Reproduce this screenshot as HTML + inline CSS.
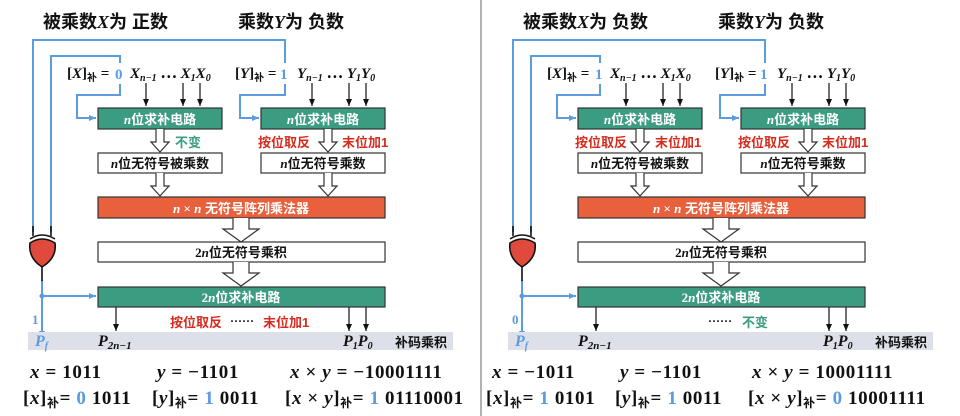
<!DOCTYPE html>
<html><head><meta charset="utf-8"><style>
body{margin:0;background:#fff}
svg{display:block}
.cn{font-family:"Liberation Sans","Noto Sans CJK SC",sans-serif;font-weight:bold}
.m{font-family:"Liberation Serif","Noto Sans CJK SC",serif;font-weight:bold}
.i{font-style:italic}
.f{letter-spacing:0.6px}
</style></head><body>
<svg width="960" height="416" viewBox="0 0 960 416" xmlns="http://www.w3.org/2000/svg">
<defs>
<marker id="ab" markerWidth="8" markerHeight="8" refX="7" refY="4" orient="auto" markerUnits="userSpaceOnUse"><path d="M0,1 L7,4 L0,7 Z" fill="#111"/></marker>
<marker id="bb" markerWidth="8" markerHeight="8" refX="7" refY="4" orient="auto" markerUnits="userSpaceOnUse"><path d="M0,1 L7,4 L0,7 Z" fill="#5b9be0"/></marker>
<g id="sa"><path d="M-4,0 V13 H-9 L0,23 L9,13 H4 V0" fill="#fff" stroke="#333" stroke-width="1.2"/></g>
<g id="la"><path d="M-8,0 V11 H-18 L0,24 L18,11 H8 V0" fill="#fff" stroke="#333" stroke-width="1.2"/></g>
<g id="common">
<g fill="none" stroke="#5b9be0" stroke-width="2">
<path d="M33,232 V40 H285 V63"/>
<path d="M51,232 V56 H120 V63"/>
<path d="M120,84 V95 H77 V118 H96" marker-end="url(#bb)"/>
<path d="M285,84 V95 H240 V118 H259" marker-end="url(#bb)"/>
<path d="M42,280 V338" marker-end="url(#bb)"/>
<path d="M42,296 H96" marker-end="url(#bb)"/>
</g>
<circle cx="42" cy="296" r="2.5" fill="#5b9be0"/>
<g stroke="#111" stroke-width="1.6">
<line x1="33" y1="226" x2="33" y2="236"/><line x1="51" y1="226" x2="51" y2="236"/>
<line x1="42" y1="262" x2="42" y2="281"/>
<path d="M30,239 Q42,231 55,239" fill="none"/>
<path d="M30,243 Q42,235 55,243 Q57,258 42,267 Q28,258 30,243 Z" fill="#e04a3c"/>
</g>
<g stroke="#111" stroke-width="1.2">
<line x1="146" y1="83" x2="146" y2="106" marker-end="url(#ab)"/>
<line x1="183" y1="83" x2="183" y2="106" marker-end="url(#ab)"/>
<line x1="200" y1="83" x2="200" y2="106" marker-end="url(#ab)"/>
<line x1="312" y1="83" x2="312" y2="106" marker-end="url(#ab)"/>
<line x1="349" y1="83" x2="349" y2="106" marker-end="url(#ab)"/>
<line x1="366" y1="83" x2="366" y2="106" marker-end="url(#ab)"/>
<line x1="116" y1="307" x2="116" y2="331" marker-end="url(#ab)"/>
<line x1="349" y1="307" x2="349" y2="331" marker-end="url(#ab)"/>
<line x1="366" y1="307" x2="366" y2="331" marker-end="url(#ab)"/>
</g>
<g stroke="#333" stroke-width="1.2">
<rect x="98" y="108" width="124" height="21" fill="#3c9c82"/>
<rect x="261" y="108" width="124" height="21" fill="#3c9c82"/>
<rect x="98" y="153" width="124" height="20" fill="#fff"/>
<rect x="261" y="153" width="124" height="20" fill="#fff"/>
<rect x="98" y="197" width="287" height="21" fill="#e8603c"/>
<rect x="98" y="242" width="287" height="20" fill="#fff"/>
<rect x="98" y="287" width="287" height="20" fill="#3c9c82"/>
</g>
<use href="#sa" x="160" y="129"/><use href="#sa" x="328" y="129"/>
<use href="#sa" x="160" y="173"/><use href="#sa" x="328" y="173"/>
<use href="#la" x="241" y="218"/><use href="#la" x="241" y="262"/>
<rect x="28" y="332" width="425" height="18" fill="#dde0e8"/>
<g class="cn" font-size="13" text-anchor="middle">
<text x="160" y="124" fill="#fff"><tspan class="m i">n</tspan>位求补电路</text>
<text x="323" y="124" fill="#fff"><tspan class="m i">n</tspan>位求补电路</text>
<text x="160" y="168" fill="#111"><tspan class="m i">n</tspan>位无符号被乘数</text>
<text x="323" y="168" fill="#111"><tspan class="m i">n</tspan>位无符号乘数</text>
<text x="241" y="213" fill="#fff"><tspan class="m i">n</tspan><tspan class="m"> × </tspan><tspan class="m i">n</tspan> 无符号阵列乘法器</text>
<text x="241" y="257" fill="#111"><tspan class="m">2</tspan><tspan class="m i">n</tspan>位无符号乘积</text>
<text x="241" y="302" fill="#fff"><tspan class="m">2</tspan><tspan class="m i">n</tspan>位求补电路</text>
</g>
<g class="m" font-size="15" fill="#111">
<text x="235" y="78">[<tspan class="i">Y</tspan>]<tspan class="cn" font-size="10" dy="3">补</tspan><tspan dy="-3"> =</tspan></text>
<text x="280" y="79" fill="#5b9be0" font-size="15">1</text>
<text x="297" y="78" class="i">Y<tspan font-size="10" dy="3">n−1</tspan><tspan dy="-3" font-style="normal"> ⋯ </tspan>Y<tspan font-size="10" dy="3">1</tspan><tspan dy="-3">Y</tspan><tspan font-size="10" dy="3">0</tspan></text>
<text x="67" y="78">[<tspan class="i">X</tspan>]<tspan class="cn" font-size="10" dy="3">补</tspan><tspan dy="-3"> =</tspan></text>
<text x="130" y="78" class="i">X<tspan font-size="10" dy="3">n−1</tspan><tspan dy="-3" font-style="normal"> ⋯ </tspan>X<tspan font-size="10" dy="3">1</tspan><tspan dy="-3">X</tspan><tspan font-size="10" dy="3">0</tspan></text>
<text x="35" y="346" fill="#5b9be0" class="i" font-size="16">P<tspan font-size="10" dy="3">f</tspan></text>
<text x="98" y="346" class="i" font-size="16">P<tspan font-size="11" dy="3">2n−1</tspan></text>
<text x="343" y="346" class="i" font-size="16">P<tspan font-size="10" dy="3">1</tspan><tspan dy="-3">P</tspan><tspan font-size="10" dy="3">0</tspan></text>
</g>
<text x="395" y="347" class="cn" font-size="13" fill="#111">补码乘积</text>
<text x="238" y="28" class="cn" font-size="18" fill="#111">乘数<tspan class="m i">Y</tspan>为 负数</text>
</g>
</defs>

<line x1="481" y1="0" x2="481" y2="416" stroke="#999" stroke-width="1.5"/>

<use href="#common"/>
<text x="43" y="28" class="cn" font-size="18" fill="#111">被乘数<tspan class="m i">X</tspan>为 正数</text>
<text x="115" y="79" class="m" fill="#5b9be0" font-size="15">0</text>
<text x="175" y="147" class="cn" font-size="13" fill="#3c9c82">不变</text>
<text x="258" y="147" class="cn" font-size="13" fill="#d62b1e">按位取反</text>
<text x="342" y="147" class="cn" font-size="13" fill="#d62b1e">末位加1</text>
<text x="170" y="327" class="cn" font-size="13" fill="#d62b1e">按位取反</text>
<text x="230" y="325" class="m" font-size="12" fill="#111">······</text>
<text x="263" y="327" class="cn" font-size="13" fill="#d62b1e">末位加1</text>
<text x="32" y="324" class="m" font-size="13" fill="#5b9be0">1</text>
<g class="m f" font-size="19" fill="#111">
<text x="30" y="378"><tspan class="i">x</tspan> = 1011</text>
<text x="157" y="378"><tspan class="i">y</tspan> = −1101</text>
<text x="290" y="378"><tspan class="i">x</tspan> × <tspan class="i">y</tspan> = −10001111</text>
<text x="23" y="404">[<tspan class="i">x</tspan>]<tspan class="cn" font-size="12" dy="3">补</tspan><tspan dy="-3">= </tspan><tspan fill="#5b9be0">0</tspan> 1011</text>
<text x="152" y="404">[<tspan class="i">y</tspan>]<tspan class="cn" font-size="12" dy="3">补</tspan><tspan dy="-3">= </tspan><tspan fill="#5b9be0">1</tspan> 0011</text>
<text x="285" y="404">[<tspan class="i">x</tspan> × <tspan class="i">y</tspan>]<tspan class="cn" font-size="12" dy="3">补</tspan><tspan dy="-3">= </tspan><tspan fill="#5b9be0">1</tspan> 01110001</text>
</g>

<g transform="translate(480,0)">
<use href="#common"/>
<text x="43" y="28" class="cn" font-size="18" fill="#111">被乘数<tspan class="m i">X</tspan>为 负数</text>
<text x="115" y="79" class="m" fill="#5b9be0" font-size="15">1</text>
<text x="95" y="147" class="cn" font-size="13" fill="#d62b1e">按位取反</text>
<text x="175" y="147" class="cn" font-size="13" fill="#d62b1e">末位加1</text>
<text x="258" y="147" class="cn" font-size="13" fill="#d62b1e">按位取反</text>
<text x="342" y="147" class="cn" font-size="13" fill="#d62b1e">末位加1</text>
<text x="228" y="325" class="m" font-size="12" fill="#111">······</text>
<text x="262" y="327" class="cn" font-size="13" fill="#3c9c82">不变</text>
<text x="32" y="324" class="m" font-size="13" fill="#5b9be0">0</text>
<g class="m f" font-size="19" fill="#111">
<text x="12" y="378"><tspan class="i">x</tspan> = −1011</text>
<text x="140" y="378"><tspan class="i">y</tspan> = −1101</text>
<text x="272" y="378"><tspan class="i">x</tspan> × <tspan class="i">y</tspan> = 10001111</text>
<text x="6" y="404">[<tspan class="i">x</tspan>]<tspan class="cn" font-size="12" dy="3">补</tspan><tspan dy="-3">= </tspan><tspan fill="#5b9be0">1</tspan> 0101</text>
<text x="135" y="404">[<tspan class="i">y</tspan>]<tspan class="cn" font-size="12" dy="3">补</tspan><tspan dy="-3">= </tspan><tspan fill="#5b9be0">1</tspan> 0011</text>
<text x="268" y="404">[<tspan class="i">x</tspan> × <tspan class="i">y</tspan>]<tspan class="cn" font-size="12" dy="3">补</tspan><tspan dy="-3">= </tspan><tspan fill="#5b9be0">0</tspan> 10001111</text>
</g>
</g>
</svg>
</body></html>
